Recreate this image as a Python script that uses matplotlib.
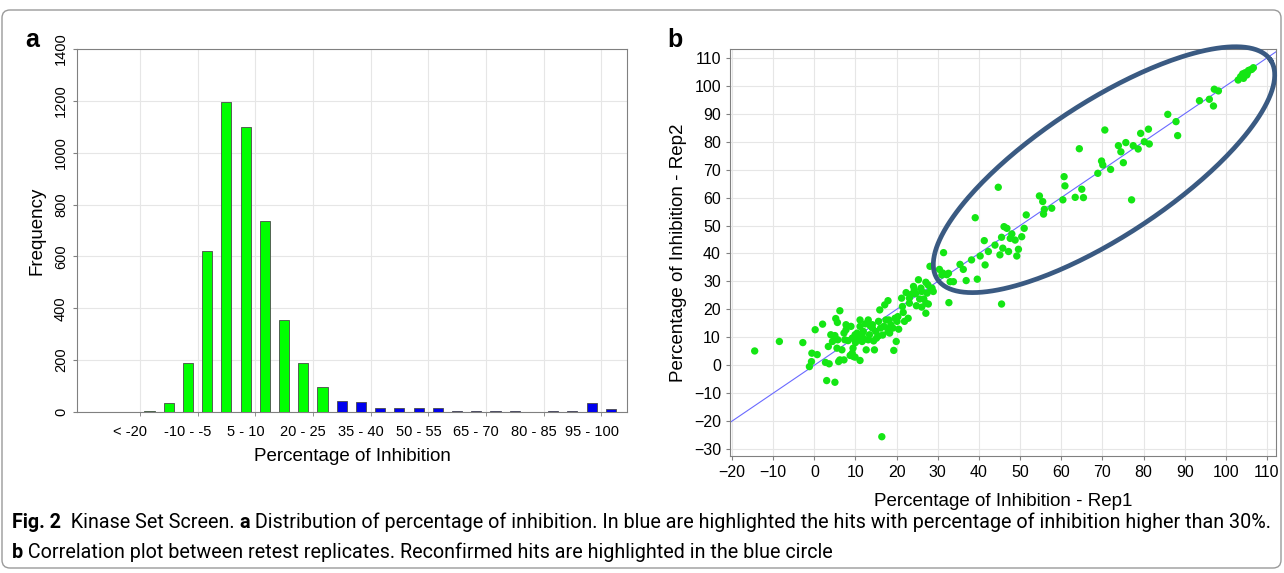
import numpy as np
import matplotlib
matplotlib.use('Agg')
import matplotlib.pyplot as plt
from matplotlib.patches import FancyBboxPatch
from matplotlib.transforms import IdentityTransform

plt.rcParams['font.family'] = ['Liberation Sans', 'DejaVu Sans']

# ---- panel a: histogram of % inhibition
bins = ['< -20', '-20 - -15', '-15 - -10', '-10 - -5', '-5 - 0', '0 - 5', '5 - 10',
        '10 - 15', '15 - 20', '20 - 25', '25 - 30', '30 - 35', '35 - 40', '40 - 45',
        '45 - 50', '50 - 55', '55 - 60', '60 - 65', '65 - 70', '70 - 75', '75 - 80',
        '80 - 85', '85 - 90', '90 - 95', '95 - 100', '> 100']
freq = [0, 3, 33, 190, 620, 1195, 1098, 737, 355, 188, 98, 42, 40, 14, 14, 16, 14,
        4, 5, 5, 4, 1, 4, 5, 33, 10]
hit_from = 11  # bins above 30% are hits

# ---- panel b: replicate correlation
rep1 = [-14.5, -8.5, -2.8, 0.2, 2.0, -0.6, 0.7, -1.2, -0.7, 2.7, 3.6, 3.4, 3.0, 5.0,
        5.0, 5.2, 5.6, 6.2, 5.7, 5.5, 5.9, 6.7, 7.2, 7.4, 7.7, 8.9, 8.2, 8.7, 9.5, 9.4,
        9.9, 10.1, 10.4, 11.1, 11.1, 11.6, 11.9, 12.6, 12.4, 13.1, 13.6, 14.1, 14.4, 14.6,
        14.9, 15.6, 15.9, 16.1, 16.4, 16.6, 17.1, 17.9, 17.4, 17.9, 18.3, 18.1, 19.3, 19.9,
        19.6, 20.3, 20.5, 21.4, 21.2, 21.9, 22.3, 22.8, 23.1, 23.6, 24.1, 24.3, 24.8, 25.3,
        25.6, 25.9, 26.1, 26.6, 27.1, 27.1, 27.4, 27.7, 28.1, 28.3, 28.6,
        7.2, 9.2, 10.0, 10.8, 11.6, 12.1, 13.4, 14.1, 15.1, 16.9, 18.6, 18.3, 9.2, 9.9,
        6.2, 4.4, 4.0, 7.7, 11.1, 13.1, 15.6, 19.1, 20.1, 21.6, 23.1, 24.6, 26.1, 27.6,
        28.9, 27.1,
        30.4, 31.4, 31.0, 32.6, 33.0, 33.8, 35.4, 36.2, 36.9, 38.2, 39.1, 39.6, 40.3, 41.3,
        41.5, 42.3, 43.9, 44.7, 45.1, 45.5, 45.8, 46.1, 46.8, 47.2, 47.6, 48.0, 48.8, 49.2,
        49.6, 50.4, 51.0, 51.5, 54.7, 55.5, 55.7, 55.9, 57.7, 60.4, 60.7, 60.9, 63.4, 64.4,
        65.0, 65.4, 68.9, 69.8, 70.1, 70.6, 72.0, 73.9, 74.5, 75.1, 75.7, 77.1, 77.5, 78.7,
        79.3, 80.2, 81.2, 81.4, 85.9, 87.9, 88.3, 93.6, 96.0, 97.0, 97.2, 98.2,
        103.0, 103.6, 104.1, 104.7, 105.1, 105.5, 105.9, 106.3, 106.7, 104.3, 105.2,
        32.7, 45.5, 31.2, 32.2]
rep2 = [5.1, 8.5, 8.1, 12.7, 14.7, 4.3, 3.8, -0.5, 1.3, 1.0, 0.5, 6.7, -5.5, -6.1,
        10.6, 16.7, 15.3, 19.5, 9.1, 6.1, 1.3, 5.5, 1.9, 9.1, 14.5, 13.9, 8.8, 3.5, 3.1, 6.1,
        10.9, 9.1, 11.5, 16.2, 1.7, 8.5, 12.1, 5.5, 14.8, 9.1, 14.1, 13.3, 8.7, 5.5,
        12.1, 10.5, 19.8, 13.3, -25.6, 10.8, 21.6, 23.1, 16.2, 12.1, 13.3, 16.2, 5.3, 8.5,
        16.8, 17.4, 12.9, 21.0, 24.0, 15.7, 26.0, 16.8, 24.0, 25.4, 28.2, 27.0, 21.3, 30.6,
        23.7, 27.6, 20.8, 23.7, 29.7, 18.6, 25.8, 21.9, 35.4, 27.0, 27.6,
        11.5, 9.7, 8.1, 9.7, 10.9, 9.3, 10.9, 14.5, 9.7, 13.9, 14.5, 11.5, 4.3, 2.9,
        1.9, 8.5, 10.9, 12.7, 13.9, 16.2, 15.7, 13.3, 15.7, 18.9, 22.2, 25.6, 26.4, 28.8,
        26.4, 22.2,
        34.3, 40.3, 32.3, 32.9, 29.9, 29.9, 36.1, 34.3, 30.3, 37.7, 52.8, 30.8, 39.1, 44.6,
        35.9, 40.7, 43.0, 63.7, 39.5, 45.8, 41.9, 49.6, 49.0, 40.7, 45.4, 47.0, 44.8, 39.1,
        41.5, 46.0, 49.0, 53.8, 60.6, 58.6, 54.1, 55.8, 56.2, 59.2, 67.5, 64.2, 60.1, 77.5,
        63.0, 60.0, 68.7, 73.1, 71.7, 84.2, 70.1, 78.6, 76.4, 72.5, 79.7, 59.2, 78.6, 77.4,
        83.0, 80.0, 84.5, 79.2, 89.8, 87.2, 82.2, 94.7, 95.2, 92.8, 98.8, 98.2,
        102.1, 103.3, 104.3, 104.7, 103.9, 105.5, 105.7, 105.9, 106.5, 102.7, 104.5,
        22.4, 21.9, 33.0, 32.4]

# reconfirmed-hits ellipse: centre and two conjugate semi-axes (data units)
ell_c = (70.4, 70.0)
ell_u = (40.5, 39.2)
ell_v = (-9.0, 20.0)

W, H = 1284, 573
fig = plt.figure(figsize=(W / 100, H / 100), dpi=100)

grid_c = '#e6e6e6'
spine_c = '#808080'

# ================= panel a
ax1 = fig.add_axes([77 / W, 1 - 412 / H, 550 / W, 363 / H])
x = np.arange(len(bins))
colors = ['#00ff00' if i < hit_from else '#0000ee' for i in range(len(bins))]
ax1.bar(x, freq, width=0.53, color=colors, edgecolor='#4a4a4a', linewidth=0.6, zorder=3)
ax1.set_xlim(-2.77, 25.84)
ax1.set_ylim(0, 1400)
ax1.set_yticks(range(0, 1401, 200))
ax1.set_xticks(x[::3])
ax1.set_xticklabels(bins[::3])
ax1.set_xticks(x[::3] + 0.5, minor=True)
ax1.tick_params(axis='x', which='major', length=0, labelsize=10.5, pad=9)
ax1.tick_params(axis='x', which='minor', length=3, color=spine_c)
ax1.tick_params(axis='y', length=3, color=spine_c, labelsize=10.5, labelrotation=90)
for lab in ax1.get_yticklabels():
    lab.set_va('center')
ax1.grid(True, which='minor', axis='x', color=grid_c, lw=0.8, zorder=0)
ax1.grid(True, which='major', axis='y', color=grid_c, lw=0.8, zorder=0)
for s in ax1.spines.values():
    s.set_color(spine_c)
ax1.set_ylabel('Frequency', fontsize=13.5, labelpad=6)
ax1.set_xlabel('Percentage of Inhibition', fontsize=13.5, labelpad=7)

# ================= panel b
ax2 = fig.add_axes([730 / W, 1 - 456 / H, 546 / W, 407 / H])
ax2.scatter(rep1, rep2, s=28, color='#14e614', edgecolors='none', zorder=3)
ax2.axline((0, 0), slope=1, color='#6a6aff', lw=0.8, zorder=2)
t = np.linspace(0, 2 * np.pi, 300)
ax2.plot(ell_c[0] + ell_u[0] * np.cos(t) + ell_v[0] * np.sin(t),
         ell_c[1] + ell_u[1] * np.cos(t) + ell_v[1] * np.sin(t),
         color='#3a5a82', lw=3.4, zorder=4, clip_on=False)
ax2.set_xlim(-20.5, 112.2)
ax2.set_ylim(-32.5, 113.2)
ax2.set_xticks(range(-20, 111, 10))
ax2.set_yticks(range(-30, 111, 10))
ax2.tick_params(length=3, color=spine_c, labelsize=11.5)
ax2.grid(True, color=grid_c, lw=0.8, zorder=0)
for s in ax2.spines.values():
    s.set_color(spine_c)
ax2.set_xlabel('Percentage of Inhibition - Rep1', fontsize=13.5, labelpad=9)
ax2.set_ylabel('Percentage of Inhibition - Rep2', fontsize=13.5, labelpad=5)

# panel letters
fig.text(25 / W, 1 - 47 / H, 'a', fontsize=18, fontweight='bold')
fig.text(667 / W, 1 - 47 / H, 'b', fontsize=18, fontweight='bold')

# frame around the figure
fig.add_artist(FancyBboxPatch((2, 5), 1279, 558, boxstyle='round,pad=0,rounding_size=8',
                              transform=IdentityTransform(), fill=False,
                              edgecolor='#9a9a9a', lw=1.0))

# caption, pieces chained one after another
cap_font = ['Roboto', 'DejaVu Sans']
cap = fig.add_axes([0, 0, 1, 1], zorder=-1)
cap.axis('off')
line1 = [('Fig. 2', 'bold'), ('  Kinase Set Screen. ', 'normal'), ('a', 'bold'),
         (' Distribution of percentage of inhibition. In blue are highlighted the hits '
          'with percentage of inhibition higher than 30%.', 'normal')]
line2 = [('b', 'bold'),
         (' Correlation plot between retest replicates. Reconfirmed hits are highlighted '
          'in the blue circle', 'normal')]
cap_texts = []
first_line_end = None
for pieces, ybase in [(line1, 1 - 528 / H), (line2, 1 - 558 / H)]:
    prev = None
    for txt, wt in pieces:
        if prev is None:
            prev = cap.text(12 / W, ybase, txt, fontsize=12, fontweight=wt,
                            family=cap_font, va='baseline', transform=fig.transFigure)
        else:
            prev = cap.annotate(txt, xy=(1, 0), xycoords=prev, fontsize=12,
                                fontweight=wt, family=cap_font, va='bottom',
                                annotation_clip=False)
        cap_texts.append(prev)
    if first_line_end is None:
        first_line_end = prev

# shrink/grow caption so line 1 spans the same width as in the figure
fig.canvas.draw()
right = first_line_end.get_window_extent().x1
scale = (1268 - 12) / (right - 12)
for tx in cap_texts:
    tx.set_fontsize(12 * scale)

fig.savefig('out.png', dpi=100)
